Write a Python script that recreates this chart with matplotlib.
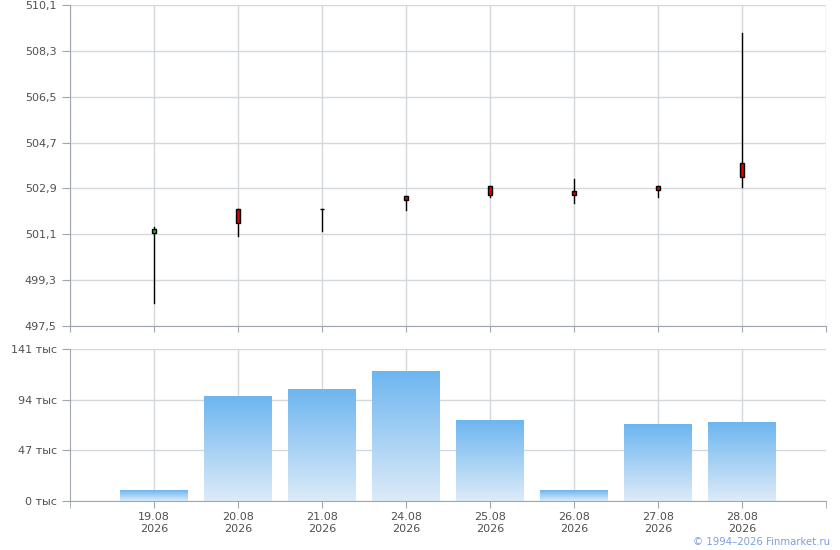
import numpy as np
import matplotlib
matplotlib.use("Agg")
import matplotlib.pyplot as plt
from matplotlib.patches import Rectangle
from matplotlib.colors import LinearSegmentedColormap

# candle data
dates = ["19.08\n2026", "20.08\n2026", "21.08\n2026", "24.08\n2026",
         "25.08\n2026", "26.08\n2026", "27.08\n2026", "28.08\n2026"]
opens = [501.17, 502.09, 502.08, 502.60, 503.00, 502.80, 503.00, 503.91]
highs = [501.37, 502.09, 502.08, 502.60, 503.00, 503.27, 503.00, 508.99]
lows = [498.39, 501.05, 501.23, 502.07, 502.58, 502.34, 502.58, 502.97]
closes = [501.29, 501.56, 502.08, 502.46, 502.66, 502.66, 502.85, 503.36]
volumes = [10.2, 97.4, 103.0, 119.7, 75.1, 10.2, 71.4, 72.4]  # thousands

price_ticks = [497.5, 499.3, 501.1, 502.9, 504.7, 506.5, 508.3, 510.1]
vol_ticks = [0, 47, 94, 141]

grid_c = "#D3D8DD"
spine_c = "#A0A6AD"
text_c = "#505050"

plt.rcParams['font.family'] = ['DejaVu Sans']

fig = plt.figure(figsize=(8.4, 5.5), dpi=100)
ax1 = fig.add_axes([70 / 840, 1 - 326 / 550, 756 / 840, 321 / 550])
ax2 = fig.add_axes([70 / 840, 1 - 501 / 550, 756 / 840, 152 / 550])

x = np.arange(1, len(dates) + 1)

for ax in (ax1, ax2):
    ax.set_xlim(0, 9)
    ax.set_xticks(range(0, 10))
    ax.grid(True, color=grid_c, linewidth=1)
    ax.set_axisbelow(True)
    for s in ("top", "right"):
        ax.spines[s].set_visible(False)
    for s in ("left", "bottom"):
        ax.spines[s].set_color(spine_c)
    ax.tick_params(colors=spine_c, labelcolor=text_c, labelsize=8, length=6)

# --- price panel ---
ax1.set_ylim(price_ticks[0], price_ticks[-1])
ax1.set_yticks(price_ticks)
ax1.set_yticklabels([f"{v:.1f}".replace(".", ",") for v in price_ticks])
ax1.tick_params(axis="x", labelbottom=False, length=4)

bw = 0.055
for xi, o, h, l, c in zip(x, opens, highs, lows, closes):
    ax1.plot([xi, xi], [l, h], color="black", linewidth=1, zorder=3)
    col = "#22AA22" if c > o else "#DD0000"
    lo, hi = min(o, c), max(o, c)
    ax1.add_patch(Rectangle((xi - bw / 2, lo), bw, hi - lo, facecolor=col,
                            edgecolor="black", linewidth=1, zorder=4))

# --- volume panel ---
ax2.set_ylim(0, 141)
ax2.set_yticks(vol_ticks)
ax2.set_yticklabels([f"{v} тыс" for v in vol_ticks])
ax2.set_xticks(x, labels=dates)
ax2.set_xticks(range(0, 10), minor=True)
ax2.tick_params(axis="x", which="minor", length=5, color=spine_c)
ax2.tick_params(axis="x", which="major", length=5, pad=3)

cmap = LinearSegmentedColormap.from_list("vol", ["#DDEBF8", "#6DB6F0"])
grad = np.linspace(0, 1, 256).reshape(-1, 1)
for xi, v in zip(x, volumes):
    ax2.imshow(grad, extent=(xi - 0.4, xi + 0.4, 0, v), origin="lower",
               cmap=cmap, aspect="auto", zorder=2)
ax2.set_xlim(0, 9)
ax2.set_ylim(0, 141)

fig.text(830 / 840, 1 - 542 / 550, "© 1994–2026 Finmarket.ru", color="#7B9EE0",
         fontsize=7.3, ha="right", va="center")

fig.savefig("out.png", dpi=100)
